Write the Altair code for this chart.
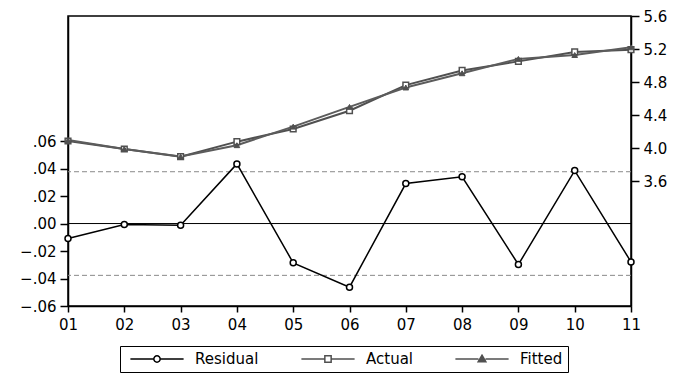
import altair as alt
import pandas as pd

periods = list(range(1, 12))
residual = [-0.0109, -0.0007, -0.0012, 0.0434, -0.0286, -0.0463, 0.0291, 0.0340, -0.0298, 0.0385, -0.0279]
actual = [4.085, 3.988, 3.895, 4.077, 4.230, 4.452, 4.762, 4.940, 5.050, 5.165, 5.192]
fitted = [4.096, 3.989, 3.896, 4.034, 4.259, 4.498, 4.733, 4.906, 5.080, 5.127, 5.220]
zero_line = [0.0]
se_band = [0.0377, -0.0377]
left_ticks = [-0.06, -0.04, -0.02, 0.0, 0.02, 0.04, 0.06]
right_ticks = [3.6, 4.0, 4.4, 4.8, 5.2, 5.6]
series_names = ["Residual", "Actual", "Fitted"]

FONT = "DejaVu Sans"
GRAY = "#505050"

res_df = pd.DataFrame({"t": periods, "y": residual, "series": "Residual"})
act_df = pd.DataFrame({"t": periods, "v": actual, "series": "Actual"})
fit_df = pd.DataFrame({"t": periods, "v": fitted, "series": "Fitted"})

x_axis = alt.Axis(values=periods,
                  labelExpr="datum.value < 10 ? '0' + datum.value : '' + datum.value",
                  title=None, tickSize=6, labelPadding=5, labelFlush=False)
x_enc = alt.X("t:Q", scale=alt.Scale(domain=[1, 11], nice=False, zero=False), axis=x_axis)

left_scale = alt.Scale(domain=[-0.06, 0.151], nice=False, zero=False)
left_axis = alt.Axis(orient="left", values=left_ticks,
                     labelExpr="replace(format(datum.value, '.2f'), '0.', '.')",
                     title=None, tickSize=8, labelPadding=4, minExtent=55, maxExtent=55)
right_scale = alt.Scale(domain=[2.085, 5.6], nice=False, zero=False)
right_axis = alt.Axis(orient="right", values=right_ticks, format=".1f",
                      title=None, tickSize=8, labelPadding=4)

def ly(field):
    return alt.Y(field, scale=left_scale, axis=left_axis)

def ry(field):
    return alt.Y(field, scale=right_scale, axis=right_axis)

zero_rule = alt.Chart(pd.DataFrame({"y": zero_line})).mark_rule(
    color="black", strokeWidth=1).encode(y=ly("y:Q"))
band_rule = alt.Chart(pd.DataFrame({"y": se_band})).mark_rule(
    color="#8a8a8a", strokeWidth=1, strokeDash=[5, 3]).encode(y=ly("y:Q"))
res_line = alt.Chart(res_df).mark_line(color="black", strokeWidth=1.5).encode(x=x_enc, y=ly("y:Q"))
res_pts = alt.Chart(res_df).mark_point(shape="circle", filled=True, fill="white", stroke="black",
                                       strokeWidth=1.5, size=36, opacity=1).encode(x=x_enc, y=ly("y:Q"))

legend = alt.Legend(title=None, orient="none", legendX=52, legendY=330, direction="horizontal",
                    strokeColor="black", fillColor="white", padding=5, symbolSize=196,
                    symbolStrokeWidth=1.5, symbolOffset=24, labelOffset=30, columnPadding=37,
                    labelFont=FONT, labelFontSize=15, labelColor="black", symbolOpacity=1)

paths = [
    "M-3.8,0H-0.45M0.45,0H3.8M-0.45,0A0.45,0.45,0,1,0,0.45,0A0.45,0.45,0,1,0,-0.45,0Z",
    "M-3.8,0H-0.45M0.45,0H3.8M-0.45,-0.45H0.45V0.45H-0.45Z",
    "M-3.8,0H-0.5M0.5,0H3.8M0,-0.55L0.55,0.4H-0.55Z",
]
legend_layer = alt.Chart(res_df).transform_filter("datum.t < 0").mark_point(filled=True).encode(
    x=x_enc, y=ly("y:Q"),
    fill=alt.Fill("series:N", scale=alt.Scale(domain=series_names, range=["white", "white", GRAY]), legend=legend),
    stroke=alt.Stroke("series:N", scale=alt.Scale(domain=series_names, range=["black", GRAY, GRAY]), legend=legend),
    shape=alt.Shape("series:N", scale=alt.Scale(domain=series_names, range=paths), legend=legend),
)

left_layer = alt.layer(band_rule, zero_rule, res_line, res_pts, legend_layer)

act_line = alt.Chart(act_df).mark_line(color=GRAY, strokeWidth=2).encode(x=x_enc, y=ry("v:Q"))
fit_line = alt.Chart(fit_df).mark_line(color="#5c5c5c", strokeWidth=2).encode(x=x_enc, y=ry("v:Q"))
act_pts = alt.Chart(act_df).mark_point(shape="square", filled=True, fill="white", stroke=GRAY,
                                       strokeWidth=1.5, size=32, opacity=1).encode(x=x_enc, y=ry("v:Q"))
fit_pts = alt.Chart(fit_df).mark_point(shape="triangle-up", filled=True, fill=GRAY, stroke=GRAY,
                                       strokeWidth=1, size=32, opacity=1).encode(x=x_enc, y=ry("v:Q"))
right_layer = alt.layer(act_line, fit_line, act_pts, fit_pts)

chart = alt.layer(left_layer, right_layer).resolve_scale(y="independent").properties(
    width=563, height=290, padding={"left": 5, "top": 1, "right": 5, "bottom": 0}
).configure_view(stroke="black", strokeWidth=1.5).configure_axis(
    labelFont=FONT, labelFontSize=15, labelColor="black", domainColor="black", tickColor="black",
    domainWidth=1.5, tickWidth=1.5, grid=False
)

chart.save("out.html", embed_options={"renderer": "svg", "actions": False})
